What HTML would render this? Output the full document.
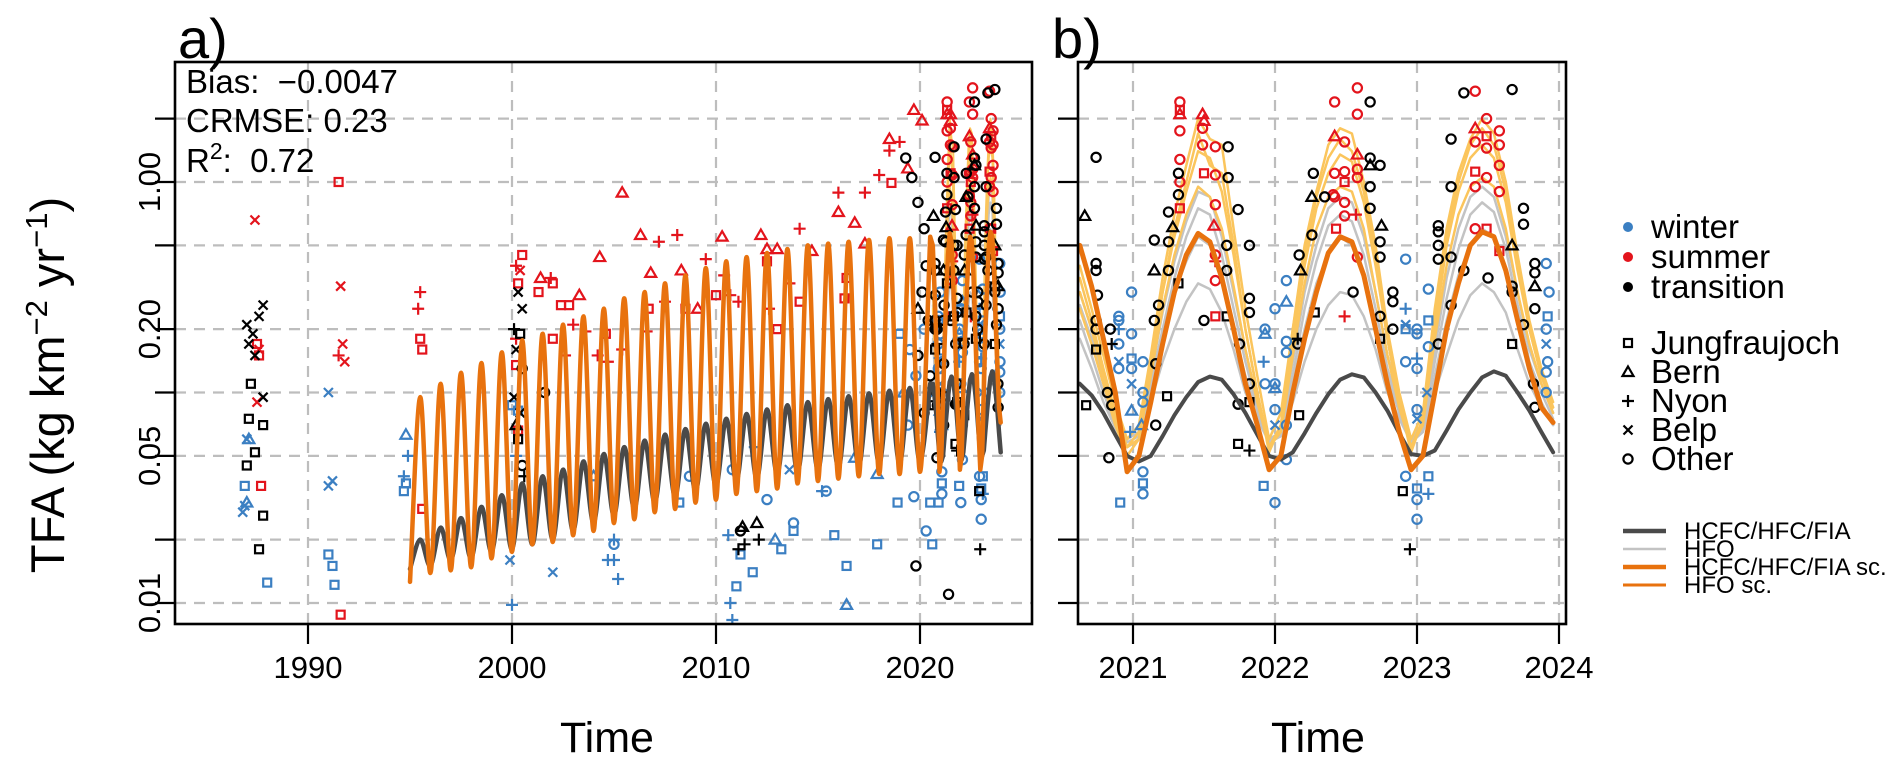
<!DOCTYPE html>
<html><head><meta charset="utf-8"><title>TFA deposition</title>
<style>html,body{margin:0;padding:0;background:#fff}svg{display:block}text{font-family:"Liberation Sans",Arial,sans-serif;fill:#000}</style>
</head><body>
<svg id="chart" width="1892" height="774" viewBox="0 0 1892 774" xmlns="http://www.w3.org/2000/svg">
<defs>
<clipPath id="clipA"><rect x="175" y="62" width="857" height="562"/></clipPath>
<clipPath id="clipB"><rect x="1078" y="62" width="488" height="562"/></clipPath>
</defs>
<g id="grid"></g>
<g id="layerA" clip-path="url(#clipA)"></g>
<g id="layerB" clip-path="url(#clipB)"></g>
<g id="axes"></g>
<text x="178" y="58" font-size="56">a)</text>
<text x="1052" y="58" font-size="56">b)</text>
<text x="186" y="93" font-size="33" xml:space="preserve">Bias:  −0.0047</text>
<text x="186" y="132" font-size="33">CRMSE: 0.23</text>
<text x="186" y="172" font-size="33" xml:space="preserve">R<tspan dy="-13" font-size="23">2</tspan><tspan dy="13">:  0.72</tspan></text>
<text transform="translate(64,385) rotate(-90)" text-anchor="middle" font-size="47">TFA (kg km<tspan dy="-17" font-size="31">−2</tspan><tspan dy="17"> yr</tspan><tspan dy="-17" font-size="31">−1</tspan><tspan dy="17">)</tspan></text>
<text x="607" y="752" text-anchor="middle" font-size="43">Time</text>
<text x="1318" y="752" text-anchor="middle" font-size="43">Time</text>
<g id="legend"></g>
</svg>
<script>
// ---------- data ----------
const yTicks=[0.01,0.02,0.05,0.1,0.2,0.5,1,2];
const yTickLabels=["0.01","","0.05","","0.20","","1.00",""];
const xTicksA=[1990,2000,2010,2020];
const xTicksB=[2021,2022,2023,2024];
// annual seasonal extremes (trough at Jan, peak at mid-year), 1995..2020
const lineYears=[1995,1996,1997,1998,1999,2000,2001,2002,2003,2004,2005,2006,2007,2008,2009,2010,2011,2012,2013,2014,2015,2016,2017,2018,2019,2020];
const orangePeak=[0.095,0.11,0.124,0.138,0.155,0.177,0.19,0.21,0.23,0.25,0.28,0.3,0.33,0.36,0.39,0.42,0.44,0.46,0.48,0.5,0.51,0.52,0.53,0.54,0.54,0.55];
const orangeTrough=[0.0126,0.0139,0.0143,0.0148,0.0163,0.0175,0.019,0.0195,0.021,0.022,0.024,0.025,0.027,0.028,0.03,0.031,0.033,0.034,0.035,0.037,0.038,0.039,0.04,0.041,0.041,0.042];
const darkPeak=[0.02,0.0228,0.0253,0.0286,0.0325,0.037,0.04,0.043,0.047,0.051,0.055,0.059,0.063,0.067,0.071,0.075,0.079,0.083,0.087,0.09,0.093,0.096,0.099,0.102,0.105,0.11];
const darkTrough=[0.0145,0.015,0.016,0.0163,0.0175,0.018,0.019,0.02,0.022,0.024,0.026,0.028,0.03,0.032,0.034,0.036,0.038,0.039,0.041,0.042,0.043,0.044,0.045,0.046,0.046,0.047];
// monthly series Aug 2020 .. Dec 2023
const monthStart=2020.625;
const darkMonthly=[0.11,0.097,0.08,0.063,0.05, 0.047,0.05,0.062,0.078,0.095,0.112,0.119,0.115,0.098,0.08,0.063,0.05, 0.048,0.052,0.064,0.08,0.098,0.115,0.122,0.118,0.1,0.082,0.064,0.051, 0.05,0.053,0.066,0.083,0.1,0.118,0.126,0.12,0.1,0.082,0.065,0.052];
const orangeMonthly=[0.5,0.32,0.18,0.1,0.042, 0.05,0.09,0.17,0.3,0.45,0.57,0.52,0.35,0.2,0.11,0.07,0.043, 0.05,0.1,0.18,0.3,0.46,0.55,0.52,0.36,0.2,0.11,0.065,0.043, 0.05,0.1,0.2,0.33,0.5,0.58,0.55,0.38,0.22,0.13,0.085,0.072];
const hfoSc1=[0.4,0.25,0.15,0.09,0.06, 0.07,0.15,0.35,0.7,1.2,2.0,1.6,1.5,0.6,0.25,0.12,0.06, 0.08,0.2,0.5,0.9,1.5,1.8,1.7,1.0,0.5,0.2,0.1,0.06, 0.08,0.25,0.6,1.1,1.6,2.0,1.7,1.0,0.45,0.22,0.13,0.09];
const hfoSc2=[0.35,0.22,0.13,0.08,0.055, 0.065,0.13,0.3,0.55,0.9,1.4,1.3,0.9,0.45,0.2,0.1,0.055, 0.07,0.17,0.4,0.75,1.1,1.35,1.25,0.8,0.4,0.18,0.09,0.055, 0.075,0.2,0.5,0.9,1.3,1.5,1.3,0.8,0.38,0.2,0.12,0.085];
const hfoSc3=[0.3,0.2,0.12,0.075,0.055, 0.06,0.12,0.25,0.45,0.7,0.95,0.85,0.6,0.32,0.16,0.09,0.055, 0.065,0.15,0.33,0.6,0.85,0.95,0.9,0.6,0.3,0.15,0.085,0.055, 0.07,0.18,0.4,0.7,0.95,1.05,0.95,0.6,0.3,0.17,0.11,0.08];
const hfoSc4=[0.25,0.17,0.11,0.07,0.05, 0.06,0.14,0.3,0.6,1.0,1.7,1.2,1.1,0.5,0.2,0.1,0.052, 0.07,0.2,0.45,0.85,1.3,1.6,1.4,0.9,0.45,0.18,0.09,0.052, 0.075,0.22,0.55,1.0,1.5,1.8,1.5,0.9,0.4,0.2,0.12,0.085];
const hfo1=[0.3,0.2,0.12,0.08,0.06, 0.065,0.12,0.24,0.42,0.65,0.9,0.85,0.55,0.3,0.16,0.09,0.06, 0.065,0.14,0.3,0.5,0.75,0.85,0.8,0.55,0.3,0.15,0.09,0.06, 0.07,0.16,0.35,0.6,0.85,0.95,0.85,0.55,0.3,0.16,0.11,0.08];
const hfo2=[0.22,0.15,0.1,0.07,0.055, 0.06,0.1,0.18,0.3,0.42,0.55,0.5,0.35,0.2,0.12,0.08,0.058, 0.062,0.11,0.2,0.33,0.45,0.55,0.5,0.36,0.21,0.12,0.08,0.058, 0.065,0.12,0.22,0.36,0.5,0.6,0.55,0.38,0.22,0.13,0.09,0.07];
const hfo3=[0.18,0.13,0.09,0.068,0.055, 0.06,0.09,0.14,0.2,0.27,0.33,0.31,0.24,0.16,0.1,0.075,0.058, 0.062,0.09,0.14,0.2,0.26,0.3,0.29,0.23,0.16,0.1,0.075,0.058, 0.065,0.1,0.15,0.22,0.29,0.33,0.3,0.24,0.16,0.11,0.085,0.07];
const hfo4=[0.26,0.18,0.11,0.075,0.058, 0.062,0.11,0.2,0.35,0.55,0.75,0.7,0.45,0.25,0.14,0.085,0.058, 0.064,0.12,0.25,0.42,0.62,0.7,0.65,0.45,0.25,0.13,0.085,0.058, 0.068,0.14,0.28,0.48,0.7,0.8,0.72,0.48,0.26,0.14,0.1,0.075];
// observations [time, value, site] ; site: J Jungfraujoch, B Bern, N Nyon, P Belp, O Other
const winterEarly=[[1987.1,0.06,'B'],[1987.0,0.03,'B'],[1986.9,0.029,'P'],[1986.8,0.027,'P'],[1986.9,0.036,'J'],[1987.0,0.06,'P'],[1988.0,0.0125,'J'],[1991.0,0.017,'J'],[1991.2,0.015,'J'],[1991.3,0.0122,'J'],[1991.0,0.1,'P'],[1991.0,0.036,'P'],[1991.2,0.038,'P'],[1994.8,0.063,'B'],[1994.9,0.05,'N'],[1994.7,0.04,'N'],[1994.7,0.034,'J'],[1994.8,0.037,'J'],[2000.0,0.087,'J'],[2000.3,0.082,'J'],[2000.2,0.05,'N'],[1999.9,0.016,'P'],[2002.0,0.014,'P'],[2000.0,0.0098,'N'],[2005.0,0.019,'O'],[2005.0,0.02,'N'],[2005.0,0.016,'N'],[2005.2,0.013,'N'],[2004.0,0.04,'B'],[2008.2,0.03,'J'],[2011.2,0.017,'J'],[2011.8,0.014,'J'],[2013.2,0.018,'J'],[2013.8,0.022,'J'],[2015.8,0.021,'J'],[2016.4,0.015,'J'],[2017.9,0.019,'J'],[2020.5,0.03,'J'],[2020.6,0.019,'J'],[2008.7,0.04,'O'],[2012.5,0.031,'O'],[2013.8,0.024,'O'],[2015.4,0.034,'O'],[2010.8,0.043,'O'],[2016.4,0.0098,'B'],[2017.9,0.041,'B'],[2016.8,0.049,'B'],[2010.6,0.021,'N'],[2010.7,0.01,'N'],[2010.8,0.0083,'N'],[2015.2,0.034,'N'],[2004.7,0.016,'N'],[2011.9,0.055,'N'],[2013.6,0.043,'P'],[2011.0,0.012,'J'],[2012.9,0.02,'B'],[2019.5,0.16,'O'],[2019.8,0.12,'O'],[2020.2,0.2,'O'],[2020.4,0.1,'O'],[2019.2,0.1,'B'],[2019.0,0.19,'J'],[2019.4,0.07,'O'],[2018.9,0.03,'J'],[2019.7,0.032,'O'],[2020.3,0.022,'O']];
const summerEarly=[[1987.4,0.66,'P'],[1987.5,0.17,'J'],[1987.6,0.15,'J'],[1987.6,0.16,'P'],[1987.5,0.09,'P'],[1987.7,0.036,'J'],[1991.5,1.0,'J'],[1991.6,0.32,'P'],[1991.7,0.17,'P'],[1991.8,0.14,'P'],[1991.6,0.0088,'J'],[1991.5,0.15,'N'],[1995.5,0.3,'N'],[1995.4,0.25,'N'],[1995.5,0.18,'J'],[1995.6,0.16,'J'],[1995.6,0.028,'J'],[2001.4,0.35,'B'],[2003.3,0.29,'B'],[2004.3,0.44,'B'],[2005.4,0.89,'B'],[2006.3,0.56,'B'],[2006.8,0.37,'B'],[2008.3,0.38,'B'],[2009.1,0.25,'B'],[2010.3,0.55,'B'],[2012.2,0.56,'B'],[2012.5,0.48,'B'],[2013.0,0.48,'B'],[2014.7,0.47,'B'],[2016.0,0.72,'B'],[2016.8,0.64,'B'],[2017.3,0.51,'B'],[2019.4,1.16,'B'],[2018.5,1.6,'B'],[2020.1,1.96,'B'],[2019.7,2.2,'B'],[2001.9,0.35,'N'],[2003.0,0.21,'N'],[2004.2,0.15,'N'],[2004.7,0.14,'N'],[2006.6,0.195,'N'],[2007.2,0.52,'N'],[2008.1,0.56,'N'],[2009.5,0.43,'N'],[2010.4,0.36,'N'],[2011.1,0.27,'N'],[2012.6,0.25,'N'],[2013.6,0.33,'N'],[2014.1,0.6,'N'],[2016.0,0.89,'N'],[2017.3,0.89,'N'],[2018.0,1.08,'N'],[2018.5,1.41,'N'],[2019.0,1.55,'N'],[2000.2,0.4,'N'],[2000.2,0.18,'N'],[2002.6,0.15,'N'],[2003.6,0.195,'N'],[2005.4,0.16,'N'],[2007.5,0.27,'N'],[2010.7,0.29,'N'],[2002.0,0.33,'J'],[2002.4,0.26,'J'],[2002.0,0.18,'J'],[2002.8,0.26,'J'],[2004.6,0.19,'J'],[2006.7,0.25,'J'],[2008.5,0.25,'J'],[2010.0,0.29,'J'],[2012.5,0.42,'J'],[2013.0,0.2,'J'],[2014.1,0.27,'J'],[2016.3,0.28,'J'],[2018.6,0.99,'J'],[2016.4,0.35,'J'],[2000.3,0.33,'J'],[2000.2,0.135,'J'],[2000.3,0.066,'J'],[2001.3,0.3,'J'],[2000.5,0.45,'J'],[2000.4,0.38,'P']];
const transEarly=[[1987.0,0.21,'P'],[1987.3,0.19,'P'],[1987.6,0.23,'P'],[1987.1,0.17,'P'],[1987.4,0.15,'P'],[1987.8,0.26,'P'],[1987.2,0.11,'J'],[1987.8,0.095,'P'],[1987.1,0.075,'J'],[1987.8,0.07,'J'],[1987.4,0.052,'J'],[1987.0,0.045,'J'],[1987.8,0.026,'J'],[1987.6,0.018,'J'],[2000.3,0.3,'P'],[2000.5,0.25,'P'],[2000.1,0.2,'N'],[2000.4,0.19,'J'],[2000.2,0.16,'P'],[2000.5,0.13,'O'],[2000.1,0.095,'P'],[2000.4,0.08,'P'],[2000.3,0.06,'J'],[2000.5,0.045,'O'],[2000.6,0.04,'N'],[2000.2,0.07,'B'],[2001.6,0.1,'O'],[2011.1,0.018,'N'],[2011.4,0.019,'N'],[2012.1,0.02,'N'],[2011.3,0.023,'B'],[2012.0,0.024,'B'],[2011.2,0.022,'O'],[2019.8,0.015,'O'],[2021.4,0.011,'O'],[2019.6,1.05,'O'],[2019.9,0.8,'O'],[2020.2,0.6,'O'],[2020.3,0.4,'O'],[2020.1,0.3,'O'],[2020.4,0.22,'O'],[2019.9,0.15,'O'],[2020.5,0.12,'O'],[2020.2,0.08,'O'],[2019.3,1.3,'O'],[2019.9,0.25,'B']];
const winterB=[[2020.9,0.23,'O'],[2020.9,0.22,'O'],[2020.9,0.2,'N'],[2020.9,0.17,'O'],[2020.9,0.14,'P'],[2020.9,0.13,'O'],[2020.99,0.3,'O'],[2020.99,0.19,'O'],[2020.99,0.145,'J'],[2020.99,0.13,'O'],[2020.99,0.11,'P'],[2020.99,0.082,'B'],[2021.07,0.1,'O'],[2021.07,0.09,'O'],[2021.07,0.14,'O'],[2021.06,0.07,'B'],[2021.07,0.042,'O'],[2021.07,0.037,'J'],[2021.07,0.033,'O'],[2020.91,0.03,'J'],[2020.98,0.065,'N'],[2021.93,0.2,'O'],[2021.93,0.19,'B'],[2021.92,0.14,'N'],[2021.93,0.11,'O'],[2022.0,0.25,'O'],[2022.0,0.11,'O'],[2022.0,0.105,'B'],[2022.0,0.083,'O'],[2022.0,0.07,'P'],[2022.08,0.34,'O'],[2022.08,0.27,'B'],[2022.08,0.175,'O'],[2022.08,0.155,'O'],[2022.08,0.07,'O'],[2022.08,0.048,'O'],[2021.92,0.036,'J'],[2022.0,0.03,'O'],[2022.92,0.43,'O'],[2022.92,0.25,'N'],[2022.92,0.21,'P'],[2022.92,0.2,'J'],[2022.92,0.14,'O'],[2023.0,0.2,'O'],[2023.0,0.19,'O'],[2023.0,0.145,'N'],[2023.0,0.13,'O'],[2023.08,0.31,'O'],[2023.08,0.22,'J'],[2023.08,0.165,'O'],[2023.07,0.1,'P'],[2023.0,0.083,'O'],[2023.0,0.075,'P'],[2022.92,0.04,'O'],[2023.08,0.04,'J'],[2023.0,0.035,'J'],[2023.08,0.033,'N'],[2023.0,0.031,'O'],[2023.0,0.025,'O'],[2023.91,0.41,'O'],[2023.91,0.2,'O'],[2023.91,0.17,'P'],[2023.92,0.14,'O'],[2023.91,0.125,'O'],[2023.91,0.1,'O'],[2023.93,0.3,'O'],[2023.92,0.23,'J']];
const summerB=[[2021.33,2.4,'O'],[2021.33,2.2,'J'],[2021.33,2.1,'B'],[2021.49,2.1,'B'],[2021.5,1.95,'B'],[2021.49,1.8,'O'],[2021.33,1.75,'O'],[2021.49,1.5,'O'],[2021.58,1.47,'O'],[2021.33,1.28,'O'],[2021.5,1.1,'J'],[2021.58,1.08,'O'],[2021.33,1.0,'O'],[2021.33,0.75,'J'],[2021.58,0.78,'O'],[2021.57,0.62,'B'],[2021.58,0.45,'O'],[2021.58,0.42,'N'],[2021.58,0.34,'O'],[2021.58,0.23,'J'],[2022.42,2.4,'O'],[2022.42,1.65,'B'],[2022.42,1.1,'O'],[2022.42,0.85,'O'],[2022.43,0.6,'J'],[2022.58,2.8,'O'],[2022.58,2.1,'O'],[2022.49,1.55,'O'],[2022.58,1.35,'B'],[2022.58,1.15,'O'],[2022.49,1.12,'O'],[2022.58,1.05,'O'],[2022.49,1.0,'J'],[2022.41,0.87,'O'],[2022.49,0.8,'O'],[2022.49,0.69,'O'],[2022.57,0.7,'N'],[2022.58,0.44,'O'],[2022.49,0.23,'N'],[2023.41,2.7,'O'],[2023.49,2.0,'O'],[2023.41,1.8,'B'],[2023.49,1.65,'J'],[2023.58,1.75,'O'],[2023.41,1.55,'O'],[2023.58,1.5,'O'],[2023.49,1.45,'O'],[2023.58,1.2,'O'],[2023.41,1.12,'J'],[2023.49,1.05,'O'],[2023.41,0.95,'O'],[2023.58,0.9,'O'],[2023.41,0.6,'O'],[2023.49,0.6,'J'],[2023.58,0.47,'J']];
const transB=[[2020.74,1.31,'O'],[2020.66,0.69,'B'],[2020.74,0.41,'O'],[2020.74,0.38,'O'],[2020.75,0.29,'O'],[2020.74,0.22,'O'],[2020.74,0.2,'O'],[2020.74,0.16,'J'],[2020.84,0.2,'O'],[2020.85,0.17,'N'],[2020.82,0.1,'O'],[2020.85,0.087,'O'],[2020.83,0.049,'O'],[2020.67,0.087,'J'],[2021.16,0.07,'O'],[2021.15,0.53,'O'],[2021.15,0.38,'B'],[2021.18,0.26,'O'],[2021.16,0.137,'O'],[2021.25,0.72,'O'],[2021.25,0.52,'O'],[2021.25,0.38,'O'],[2021.28,0.61,'B'],[2021.32,1.1,'O'],[2021.32,0.87,'O'],[2021.24,0.096,'J'],[2021.32,0.33,'J'],[2021.15,0.22,'O'],[2021.67,1.47,'O'],[2021.67,1.05,'O'],[2021.74,0.74,'O'],[2021.82,0.5,'O'],[2021.66,0.23,'J'],[2021.75,0.17,'O'],[2021.82,0.28,'O'],[2021.82,0.24,'O'],[2021.82,0.11,'O'],[2021.82,0.09,'J'],[2021.74,0.088,'O'],[2021.74,0.057,'J'],[2021.82,0.053,'N'],[2021.66,0.5,'O'],[2021.66,0.38,'O'],[2022.27,1.1,'O'],[2022.26,0.85,'B'],[2022.35,0.85,'O'],[2022.17,0.45,'O'],[2022.18,0.38,'B'],[2022.26,0.56,'O'],[2022.28,0.24,'J'],[2022.16,0.18,'N'],[2022.16,0.17,'O'],[2022.17,0.078,'J'],[2022.67,2.4,'O'],[2022.67,1.3,'O'],[2022.74,1.2,'O'],[2022.67,1.2,'B'],[2022.67,0.95,'O'],[2022.67,0.75,'O'],[2022.75,0.62,'B'],[2022.74,0.52,'O'],[2022.74,0.44,'O'],[2022.83,0.3,'O'],[2022.83,0.27,'O'],[2022.74,0.23,'O'],[2022.83,0.2,'O'],[2022.74,0.18,'J'],[2023.15,0.17,'O'],[2023.24,0.26,'O'],[2023.24,0.44,'O'],[2023.15,0.62,'O'],[2023.15,0.58,'O'],[2023.15,0.5,'O'],[2023.15,0.43,'O'],[2023.33,0.38,'O'],[2023.24,0.95,'O'],[2023.24,1.6,'O'],[2023.33,2.65,'O'],[2023.67,2.75,'O'],[2023.75,0.75,'O'],[2023.75,0.63,'O'],[2023.67,0.5,'B'],[2023.67,0.32,'O'],[2023.67,0.3,'O'],[2023.83,0.41,'O'],[2023.83,0.37,'O'],[2023.83,0.32,'B'],[2023.75,0.21,'O'],[2023.83,0.25,'O'],[2023.67,0.17,'J'],[2023.82,0.11,'O'],[2023.83,0.085,'O'],[2022.9,0.034,'J'],[2022.95,0.018,'N'],[2021.5,0.22,'O'],[2022.55,0.3,'O'],[2023.5,0.35,'O']];
const seasonColors={winter:'#3b7fc2',summer:'#e3141c',transition:'#000000'};
</script>
<script>
const NS='http://www.w3.org/2000/svg';
const svg=document.getElementById('chart');
const TOP=62,BOT=624,AL=175,AR=1032,BL=1078,BR=1566;
function yS(v){return 182-210.5*Math.log10(v);}
function xA(t){return 512+20.4*(t-2000);}
function xB(t){return 1133+142*(t-2021);}
function mk(tag,attrs,parent){const e=document.createElementNS(NS,tag);for(const k in attrs)e.setAttribute(k,attrs[k]);parent.appendChild(e);return e;}
const grid=document.getElementById('grid'),axes=document.getElementById('axes');
const LA=document.getElementById('layerA'),LB=document.getElementById('layerB');
yTicks.forEach(v=>{[[AL,AR],[BL,BR]].forEach(([a,b],k)=>{
  const l=mk('line',{x1:a,x2:b,y1:yS(v),y2:yS(v),stroke:'#bdbdbd','stroke-width':2.2,'stroke-dasharray':'11 8'},grid);
  
  });});
xTicksA.forEach(t=>{const l=mk('line',{x1:xA(t),x2:xA(t),y1:TOP,y2:BOT,stroke:'#bdbdbd','stroke-width':2.2,'stroke-dasharray':'11 8'},grid);
  
  });
xTicksB.forEach(t=>{const l=mk('line',{x1:xB(t),x2:xB(t),y1:TOP,y2:BOT,stroke:'#bdbdbd','stroke-width':2.2,'stroke-dasharray':'11 8'},grid);
  
  });
function linePath(pts){return pts.map((p,i)=>(i?'L':'M')+p[0].toFixed(1)+','+p[1].toFixed(1)).join('');}
function smoothPath(pts){let d='M'+pts[0][0]+','+pts[0][1];for(let i=0;i<pts.length-1;i++){const p0=pts[Math.max(0,i-1)],p1=pts[i],p2=pts[i+1],p3=pts[Math.min(pts.length-1,i+2)];
 d+='C'+(p1[0]+(p2[0]-p0[0])/6).toFixed(1)+','+(p1[1]+(p2[1]-p0[1])/6).toFixed(1)+' '+(p2[0]-(p3[0]-p1[0])/6).toFixed(1)+','+(p2[1]-(p3[1]-p1[1])/6).toFixed(1)+' '+p2[0].toFixed(1)+','+p2[1].toFixed(1);}return d;}
function monthlyPts(arr,xf){return arr.map((v,i)=>[xf(monthStart+i/12),yS(v)]);}
function annualPts(tr,pk,xf){const p=[];lineYears.forEach((y,i)=>{p.push([xf(y),yS(tr[i])]);p.push([xf(y+0.5),yS(pk[i])]);});return p;}
function drawLine(d,color,w,parent,name){const e=mk('path',{d:d,fill:'none',stroke:color,'stroke-width':w,'stroke-linejoin':'round','stroke-linecap':'round'},parent);
 
 }
function marker(t,v,site,color,xf,parent,name){const x=xf(t),y=yS(v);let e;const sw=2.2;
 if(site==='J')e=mk('rect',{x:x-4,y:y-4,width:8,height:8,fill:'none',stroke:color,'stroke-width':sw},parent);
 else if(site==='B')e=mk('path',{d:`M${x},${y-5.5}L${x+5.5},${y+4}L${x-5.5},${y+4}Z`,fill:'none',stroke:color,'stroke-width':sw},parent);
 else if(site==='N')e=mk('path',{d:`M${x-6},${y}H${x+6}M${x},${y-6}V${y+6}`,stroke:color,'stroke-width':sw},parent);
 else if(site==='P')e=mk('path',{d:`M${x-4.5},${y-4.5}L${x+4.5},${y+4.5}M${x+4.5},${y-4.5}L${x-4.5},${y+4.5}`,stroke:color,'stroke-width':sw},parent);
 else e=mk('circle',{cx:x,cy:y,r:4.6,fill:'none',stroke:color,'stroke-width':sw},parent);
 
 
 return e;}
const hfoSets=[hfo1,hfo2,hfo3,hfo4],hfoScSets=[hfoSc1,hfoSc2,hfoSc3,hfoSc4];
// panel A
hfoSets.forEach(a=>drawLine(linePath(monthlyPts(a,xA)),'#c3c3c3',2,LA,'hfo-line-a'));
hfoScSets.forEach(a=>drawLine(linePath(monthlyPts(a,xA)),'#fbc55c',2,LA,'hfo-sc-line-a'));
[[winterEarly,'winter'],[summerEarly,'summer'],[transEarly,'transition'],[winterB,'winter'],[summerB,'summer'],[transB,'transition']].forEach(([arr,s])=>arr.forEach(p=>marker(p[0],p[1],p[2],seasonColors[s],xA,LA,s+'-obs-a')));
drawLine(smoothPath(annualPts(darkTrough,darkPeak,xA))+linePath(monthlyPts(darkMonthly,xA)).replace('M','L'),'#4a4a4a',4.5,LA,'hcfc-line-a');
drawLine(smoothPath(annualPts(orangeTrough,orangePeak,xA))+linePath(monthlyPts(orangeMonthly,xA)).replace('M','L'),'#e8720e',4.5,LA,'hcfc-sc-line-a');
// panel B
hfoSets.forEach(a=>drawLine(linePath(monthlyPts(a,xB)),'#c3c3c3',2.5,LB,'hfo-line-b'));
hfoScSets.forEach(a=>drawLine(linePath(monthlyPts(a,xB)),'#fbc55c',2.5,LB,'hfo-sc-line-b'));
[[winterB,'winter'],[summerB,'summer'],[transB,'transition']].forEach(([arr,s])=>arr.forEach(p=>marker(p[0],p[1],p[2],seasonColors[s],xB,LB,s+'-obs-b')));
drawLine(linePath(monthlyPts(darkMonthly,xB)),'#4a4a4a',4,LB,'hcfc-line-b');
drawLine(linePath(monthlyPts(orangeMonthly,xB)),'#e8720e',5,LB,'hcfc-sc-line-b');
// axes
[[AL,AR],[BL,BR]].forEach(([a,b],k)=>{const r=mk('rect',{x:a,y:TOP,width:b-a,height:BOT-TOP,fill:'none',stroke:'#000','stroke-width':2.6},axes);
 
 });
yTicks.forEach((v,i)=>{[AL,BL].forEach((x0,k)=>{const l=mk('line',{x1:x0-20,x2:x0,y1:yS(v),y2:yS(v),stroke:'#000','stroke-width':2.2},axes);
  
  });
 if(yTickLabels[i]){const t=mk('text',{transform:`translate(160,${yS(v)}) rotate(-90)`,'text-anchor':'middle','font-size':31},axes);t.textContent=yTickLabels[i];
  
  }});
function xTick(x,lab){const l=mk('line',{x1:x,x2:x,y1:BOT,y2:BOT+20,stroke:'#000','stroke-width':2.2},axes);
 
 
 const t=mk('text',{x:x,y:678,'text-anchor':'middle','font-size':31},axes);t.textContent=lab;
 
 }
xTicksA.forEach(t=>xTick(xA(t),t));
xTicksB.forEach(t=>xTick(xB(t),t));
// legend
const lg=document.getElementById('legend');
const seasonNames=['winter','summer','transition'];
seasonNames.forEach((s,i)=>{const y=227+i*30;const c=mk('circle',{cx:1628,cy:y,r:5,fill:seasonColors[s]},lg);
 
 
 const t=mk('text',{x:1651,y:y+11,'font-size':33},lg);t.textContent=s;
 
 });
const siteCodes=['J','B','N','P','O'],siteNames=['Jungfraujoch','Bern','Nyon','Belp','Other'];
siteCodes.forEach((c,i)=>{const y=343+i*29;const e=marker(0,1,c,'#000',()=>1628,lg,'legend-marker-'+siteNames[i].toLowerCase());
 e.setAttribute('transform',`translate(0,${y-yS(1)})`);
 const t=mk('text',{x:1651,y:y+11,'font-size':33},lg);t.textContent=siteNames[i];
 
 });
const lineLeg=[['HCFC/HFC/FIA','#4a4a4a',4.5],['HFO','#c3c3c3',2.5],['HCFC/HFC/FIA sc.','#e8720e',4.5],['HFO sc.','#e8720e',3]];
lineLeg.forEach((L,i)=>{const y=531+i*18;const l=mk('line',{x1:1623,x2:1666,y1:y,y2:y,stroke:L[1],'stroke-width':L[2]},lg);
 
 
 const t=mk('text',{x:1684,y:y+8,'font-size':24},lg);t.textContent=L[0];
 
 });
</script>
</body></html>
